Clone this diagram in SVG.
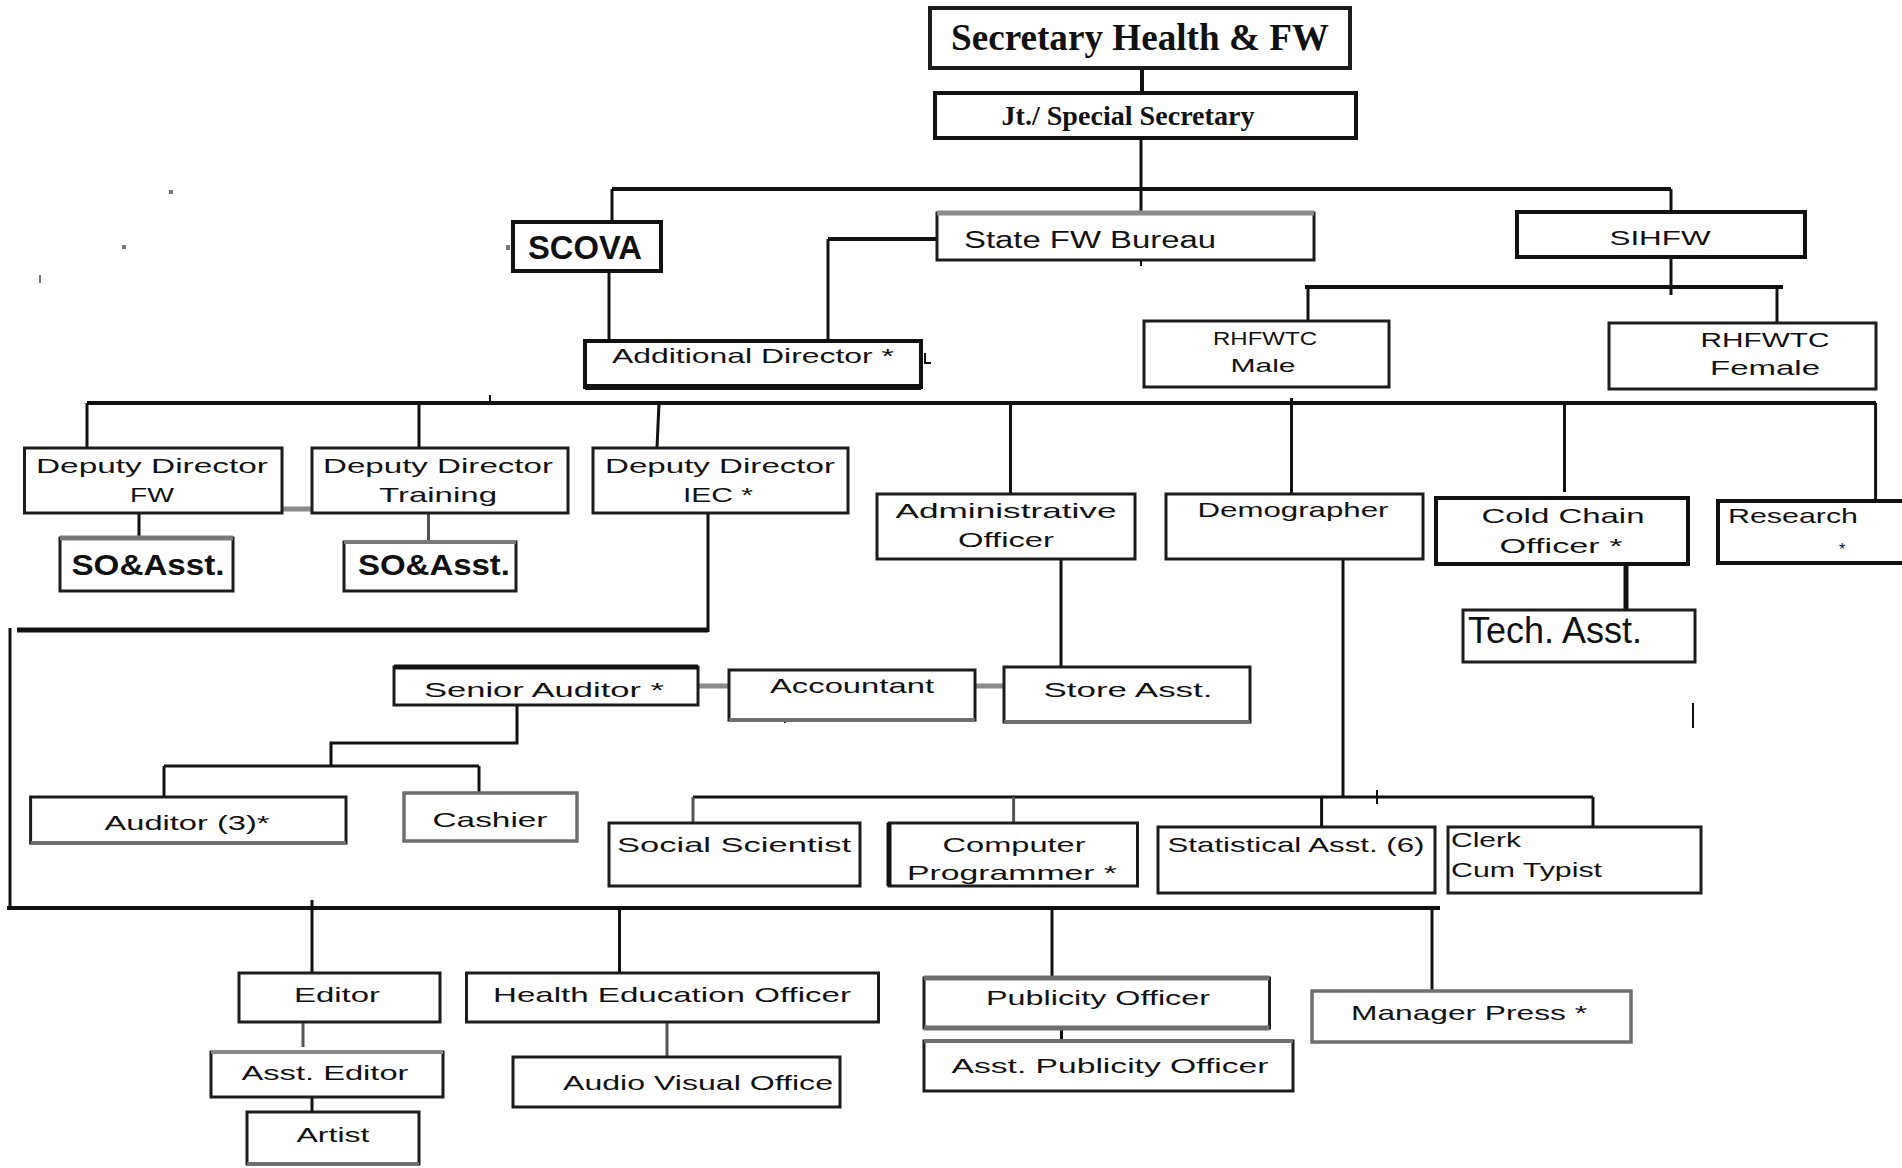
<svg xmlns="http://www.w3.org/2000/svg" width="1902" height="1168" viewBox="0 0 1902 1168">
  <style>
    .bx { fill: #fff; stroke: #1c1c1c; stroke-width: 3; }
    .bxg { fill: #fff; stroke: #6e6e6e; stroke-width: 3.5; }
    .bxk { fill: #fff; stroke: #111; stroke-width: 4; }
    .ln { fill: none; stroke: #111; stroke-width: 3; }
    .lnk { fill: none; stroke: #111; stroke-width: 4; }
    .lng { fill: none; stroke: #555; stroke-width: 3; }
    .lnh { fill: none; stroke: #8a8a8a; stroke-width: 5; }
    .t { font-family: "Liberation Sans", Arial, sans-serif; font-size: 21px; fill: #111; text-anchor: middle; }
    .tl { font-family: "Liberation Sans", Arial, sans-serif; font-size: 21px; fill: #111; text-anchor: start; }
    .tb { font-family: "Liberation Sans", Arial, sans-serif; font-size: 30px; font-weight: bold; fill: #111; text-anchor: middle; }
    .ts { font-family: "Liberation Serif", "Times New Roman", serif; font-weight: bold; fill: #111; text-anchor: middle; }
    .speck { fill: #777; }
  </style>

  <rect width="1902" height="1168" fill="#fff"/>

  <!-- connectors -->
  <g id="connectors">
    <path class="lnk" d="M1142 68 V93"/>
    <path class="ln" d="M1141 138 V213"/>
    <path class="lnk" d="M612 189 H1671"/>
    <path class="ln" d="M612 189 V222"/>
    <path class="ln" d="M1671 189 V212"/>
    <path class="ln" d="M609 271 V341"/>
    <path class="ln" d="M828 341 V239"/>
    <path class="lnk" d="M828 239 H937"/>
    <path class="ln" d="M1671 257 V295"/>
    <path class="lnk" d="M1305 287 H1783"/>
    <path class="ln" d="M1308 287 V321"/>
    <path class="ln" d="M1777 287 V323"/>

    <path class="lnk" d="M87 403 H1876"/>
    <path class="ln" d="M87 403 V448"/>
    <path class="ln" d="M419 403 V448"/>
    <path class="ln" d="M659 403 L657 448"/>
    <path class="ln" d="M1010.5 403 V494"/>
    <path class="ln" d="M1291.5 398 V494"/>
    <path class="ln" d="M1564.5 403 V492"/>
    <path class="ln" d="M1875.6 403 V501"/>

    <path class="lnh" d="M282 509 H312"/>
    <path class="ln" d="M139 513 V538"/>
    <path class="lng" d="M428.5 513 V542"/>

    <path class="ln" d="M708 513 V632"/>
    <path class="lnk" d="M708 630 H17" style="stroke-width:5"/>
    <path class="ln" d="M10 628 V910"/>

    <path class="ln" d="M517 705 V743 H331 V766"/>
    <path class="ln" d="M164 766 H479"/>
    <path class="ln" d="M164 766 V797"/>
    <path class="ln" d="M479 766 V793"/>
    <path class="lnh" d="M698 686 H729"/>
    <path class="lnh" d="M975 686 H1004"/>
    <path class="ln" d="M1061 559 V672"/>

    <path class="ln" d="M1343 559 V797"/>
    <path class="ln" d="M693 797 H1593"/>
    <path class="lng" d="M693 797 V823"/>
    <path class="lng" d="M1013.6 797 V823"/>
    <path class="ln" d="M1321.6 797 V827"/>
    <path class="ln" d="M1593 797 V827"/>
    <path class="ln" d="M1377 790 V804" style="stroke-width:2"/>

    <path class="lnk" d="M1626 564 V610" style="stroke-width:5"/>

    <path class="lnk" d="M7 908 H1440"/>
    <path class="ln" d="M312 900 V973"/>
    <path class="ln" d="M619.5 908 V973"/>
    <path class="ln" d="M1052 908 V978"/>
    <path class="ln" d="M1432 908 V991"/>
    <path class="lng" d="M303 1023 V1047"/>
    <path class="ln" d="M312 1097 V1112"/>
    <path class="lng" d="M667 1022 V1058"/>
    <path class="ln" d="M1061.5 1028 V1041"/>

    <!-- stray marks -->
    <path class="ln" d="M1141 260 V266" style="stroke-width:2"/>
    <path class="ln" d="M490 395 V402" style="stroke-width:2"/>
    <path class="ln" d="M1693 703 V728" style="stroke-width:2"/>
    <path class="ln" d="M925 353 V363 H931" style="stroke-width:2"/>
    <path class="ln" d="M785 713 V723" style="stroke-width:2"/>
    <rect class="speck" x="169" y="190" width="4" height="4"/>
    <rect class="speck" x="122" y="245" width="4" height="4"/>
    <rect class="speck" x="39" y="275" width="2" height="8"/>
    <rect class="speck" x="506" y="245" width="4" height="5"/>
  </g>

  <g id="secretary">
    <rect class="bx" x="930" y="8" width="420" height="60" style="stroke-width:4"/>
    <text class="ts" x="1140" y="50" style="font-size:38px" textLength="378" lengthAdjust="spacingAndGlyphs">Secretary Health &amp; FW</text>
  </g>

  <g id="jt-secretary">
    <rect class="bxk" x="935" y="93" width="421" height="45"/>
    <text class="ts" x="1128" y="125" style="font-size:28px" textLength="253" lengthAdjust="spacingAndGlyphs">Jt./ Special  Secretary</text>
  </g>

  <g id="scova">
    <rect class="bxk" x="513" y="222" width="148" height="49"/>
    <text class="t" x="585" y="259" style="font-size:33px;font-weight:bold" textLength="114" lengthAdjust="spacingAndGlyphs">SCOVA</text>
  </g>

  <g id="state-fw-bureau">
    <rect class="bx" x="937" y="213" width="377" height="47"/>
    <path d="M937 213 H1314" stroke="#8a8a8a" stroke-width="5" fill="none"/>
    <text class="t" x="1090" y="248" style="font-size:23px" textLength="252" lengthAdjust="spacingAndGlyphs">State  FW  Bureau</text>
  </g>

  <g id="sihfw">
    <rect class="bxk" x="1517" y="212" width="288" height="45"/>
    <text class="t" x="1660" y="245" textLength="101" lengthAdjust="spacingAndGlyphs">SIHFW</text>
  </g>

  <g id="rhfwtc-male">
    <rect class="bx" x="1144" y="321" width="245" height="66"/>
    <text class="t" x="1265" y="345" style="font-size:19px" textLength="104" lengthAdjust="spacingAndGlyphs">RHFWTC</text>
    <text class="t" x="1263" y="372" style="font-size:19px" textLength="65" lengthAdjust="spacingAndGlyphs">Male</text>
  </g>

  <g id="rhfwtc-female">
    <rect class="bx" x="1609" y="323" width="267" height="66"/>
    <text class="t" x="1765" y="347" textLength="129" lengthAdjust="spacingAndGlyphs">RHFWTC</text>
    <text class="t" x="1765" y="375" textLength="110" lengthAdjust="spacingAndGlyphs">Female</text>
  </g>

  <g id="additional-director">
    <rect class="bxk" x="585" y="341" width="336" height="46"/>
    <path d="M585 387 H921" stroke="#111" stroke-width="6" fill="none"/>
    <text class="t" x="753" y="363" textLength="282" lengthAdjust="spacingAndGlyphs">Additional Director *</text>
  </g>

  <g id="dd-fw">
    <rect class="bx" x="24.5" y="448" width="257.5" height="65"/>
    <text class="t" x="152" y="473" textLength="232" lengthAdjust="spacingAndGlyphs">Deputy Director</text>
    <text class="t" x="152" y="502" textLength="44" lengthAdjust="spacingAndGlyphs">FW</text>
  </g>

  <g id="dd-training">
    <rect class="bx" x="312" y="448" width="256" height="65"/>
    <text class="t" x="438" y="473" textLength="230" lengthAdjust="spacingAndGlyphs">Deputy Director</text>
    <text class="t" x="438" y="502" textLength="118" lengthAdjust="spacingAndGlyphs">Training</text>
  </g>

  <g id="dd-iec">
    <rect class="bx" x="593" y="448" width="255" height="65"/>
    <text class="t" x="720" y="473" textLength="230" lengthAdjust="spacingAndGlyphs">Deputy Director</text>
    <text class="t" x="718" y="502" textLength="70" lengthAdjust="spacingAndGlyphs">IEC *</text>
  </g>

  <g id="so-asst-fw">
    <rect class="bx" x="60" y="538" width="173" height="53"/>
    <path d="M60 538 H233" stroke="#7a7a7a" stroke-width="5" fill="none"/>
    <text class="tb" x="148" y="575" textLength="153" lengthAdjust="spacingAndGlyphs">SO&amp;Asst.</text>
  </g>

  <g id="so-asst-training">
    <rect class="bx" x="344" y="542" width="172" height="49"/>
    <path d="M344 542 H516" stroke="#7a7a7a" stroke-width="4" fill="none"/>
    <text class="tb" x="434" y="575" textLength="152" lengthAdjust="spacingAndGlyphs">SO&amp;Asst.</text>
  </g>

  <g id="admin-officer">
    <rect class="bx" x="877" y="494" width="258" height="65"/>
    <text class="t" x="1006" y="518" textLength="221" lengthAdjust="spacingAndGlyphs">Administrative</text>
    <text class="t" x="1006" y="547" textLength="96" lengthAdjust="spacingAndGlyphs">Officer</text>
  </g>

  <g id="demographer">
    <rect class="bx" x="1166" y="494" width="257" height="65"/>
    <text class="t" x="1293" y="517" textLength="191" lengthAdjust="spacingAndGlyphs">Demographer</text>
  </g>

  <g id="cold-chain-officer">
    <rect class="bxk" x="1436" y="498" width="252" height="66"/>
    <text class="t" x="1563" y="523" textLength="163" lengthAdjust="spacingAndGlyphs">Cold  Chain</text>
    <text class="t" x="1561" y="553" textLength="123" lengthAdjust="spacingAndGlyphs">Officer *</text>
  </g>

  <g id="research">
    <rect class="bxk" x="1718" y="501" width="200" height="62"/>
    <text class="tl" x="1728" y="523" textLength="130" lengthAdjust="spacingAndGlyphs">Research</text>
    <text class="t" x="1842" y="555" style="font-size:16px">*</text>
  </g>

  <g id="tech-asst">
    <rect class="bx" x="1463" y="610" width="232" height="52"/>
    <text class="tl" x="1468" y="643" style="font-size:36px" textLength="174" lengthAdjust="spacingAndGlyphs">Tech. Asst.</text>
  </g>

  <g id="senior-auditor">
    <rect class="bx" x="394" y="667" width="304" height="38"/>
    <path d="M394 667 H698" stroke="#111" stroke-width="5" fill="none"/>
    <text class="t" x="544" y="697" textLength="240" lengthAdjust="spacingAndGlyphs">Senior Auditor *</text>
  </g>

  <g id="accountant">
    <rect class="bx" x="729" y="670" width="246" height="50"/>
    <path d="M729 720 H975" stroke="#6e6e6e" stroke-width="4" fill="none"/>
    <text class="t" x="852" y="693" textLength="164" lengthAdjust="spacingAndGlyphs">Accountant</text>
  </g>

  <g id="store-asst">
    <rect class="bx" x="1004" y="667" width="246" height="55"/>
    <path d="M1004 722 H1250" stroke="#6e6e6e" stroke-width="4" fill="none"/>
    <text class="t" x="1128" y="697" textLength="169" lengthAdjust="spacingAndGlyphs">Store Asst.</text>
  </g>

  <g id="auditor">
    <rect class="bx" x="30.6" y="797" width="315.4" height="46"/>
    <path d="M30.6 843 H346" stroke="#6e6e6e" stroke-width="4" fill="none"/>
    <text class="t" x="187" y="830" textLength="165" lengthAdjust="spacingAndGlyphs">Auditor (3)*</text>
  </g>

  <g id="cashier">
    <rect class="bxg" x="404" y="793" width="173" height="48"/>
    <text class="t" x="490" y="827" textLength="115" lengthAdjust="spacingAndGlyphs">Cashier</text>
  </g>

  <g id="social-scientist">
    <rect class="bx" x="609" y="823" width="251" height="63"/>
    <text class="t" x="734" y="852" textLength="234" lengthAdjust="spacingAndGlyphs">Social  Scientist</text>
  </g>

  <g id="computer-programmer">
    <rect class="bx" x="889" y="823" width="248.5" height="63"/>
    <path d="M889 823 V886" stroke="#111" stroke-width="5" fill="none"/>
    <text class="t" x="1014" y="852" textLength="143" lengthAdjust="spacingAndGlyphs">Computer</text>
    <text class="t" x="1012" y="880" textLength="210" lengthAdjust="spacingAndGlyphs">Programmer *</text>
  </g>

  <g id="statistical-asst">
    <rect class="bx" x="1158" y="827" width="277" height="66"/>
    <text class="t" x="1296" y="852" textLength="257" lengthAdjust="spacingAndGlyphs">Statistical Asst. (6)</text>
  </g>

  <g id="clerk-typist">
    <rect class="bx" x="1448" y="827" width="253" height="66"/>
    <text class="tl" x="1451" y="847" textLength="70" lengthAdjust="spacingAndGlyphs">Clerk</text>
    <text class="tl" x="1451" y="877" textLength="151" lengthAdjust="spacingAndGlyphs">Cum Typist</text>
  </g>

  <g id="editor">
    <rect class="bx" x="239" y="973" width="201" height="49"/>
    <text class="t" x="337" y="1002" textLength="86" lengthAdjust="spacingAndGlyphs">Editor</text>
  </g>

  <g id="asst-editor">
    <rect class="bx" x="211" y="1052" width="232" height="45"/>
    <path d="M211 1052 H443" stroke="#8a8a8a" stroke-width="4" fill="none"/>
    <text class="t" x="325" y="1080" textLength="167" lengthAdjust="spacingAndGlyphs">Asst. Editor</text>
  </g>

  <g id="artist">
    <rect class="bx" x="247" y="1112" width="172" height="52"/>
    <path d="M247 1164 H419" stroke="#6e6e6e" stroke-width="4" fill="none"/>
    <text class="t" x="333" y="1142" textLength="73" lengthAdjust="spacingAndGlyphs">Artist</text>
  </g>

  <g id="health-education-officer">
    <rect class="bx" x="466.5" y="973" width="412" height="49"/>
    <text class="t" x="672" y="1002" textLength="358" lengthAdjust="spacingAndGlyphs">Health Education Officer</text>
  </g>

  <g id="audio-visual-office">
    <rect class="bx" x="513" y="1057" width="327" height="50"/>
    <text class="t" x="698" y="1090" textLength="270" lengthAdjust="spacingAndGlyphs">Audio Visual Office</text>
  </g>

  <g id="publicity-officer">
    <rect class="bx" x="924" y="978" width="345.5" height="50"/>
    <path d="M924 978 H1269.5 M924 1028 H1269.5" stroke="#6e6e6e" stroke-width="5" fill="none"/>
    <text class="t" x="1098" y="1005" textLength="224" lengthAdjust="spacingAndGlyphs">Publicity Officer</text>
  </g>

  <g id="asst-publicity-officer">
    <rect class="bx" x="924" y="1041" width="369" height="50"/>
    <path d="M924 1041 H1293" stroke="#6e6e6e" stroke-width="4" fill="none"/>
    <text class="t" x="1110" y="1073" textLength="317" lengthAdjust="spacingAndGlyphs">Asst.  Publicity  Officer</text>
  </g>

  <g id="manager-press">
    <rect class="bxg" x="1312" y="991" width="319" height="51"/>
    <text class="t" x="1469" y="1020" textLength="236" lengthAdjust="spacingAndGlyphs">Manager Press *</text>
  </g>
</svg>
